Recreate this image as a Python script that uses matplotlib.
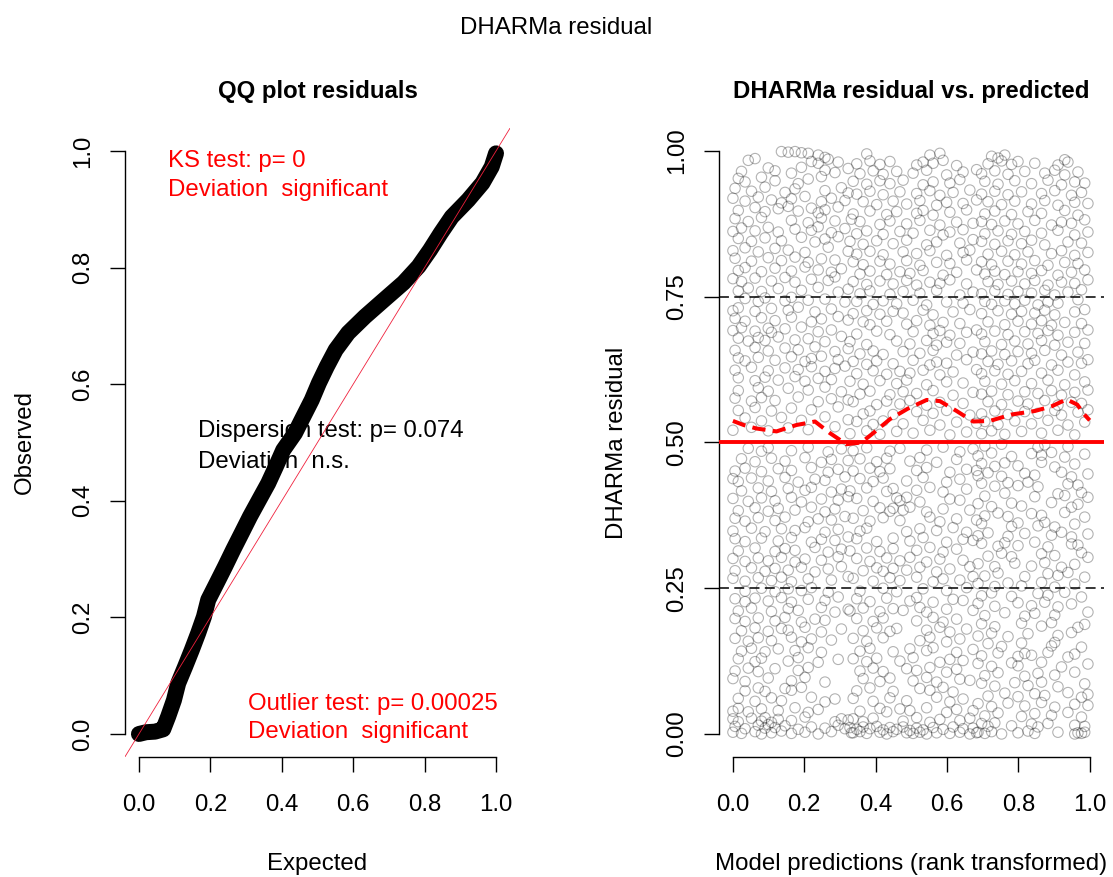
import matplotlib.pyplot as plt

plt.rcParams['font.family'] = ['Liberation Sans', 'DejaVu Sans']
FS = 17.3

# QQ plot: observed vs expected quantiles (read along the centre of the band)
qq_expected = [0.000, 0.020, 0.045, 0.068, 0.082, 0.098, 0.110, 0.129, 0.148, 0.166,
               0.182, 0.194, 0.218, 0.241, 0.264, 0.288, 0.311, 0.336, 0.362, 0.383,
               0.404, 0.437, 0.460, 0.484, 0.504, 0.526, 0.551, 0.586, 0.633, 0.685,
               0.741, 0.783, 0.815, 0.845, 0.876, 0.922, 0.962, 0.988, 1.000]
qq_observed = [0.000, 0.003, 0.004, 0.008, 0.030, 0.058, 0.087, 0.115, 0.144, 0.173,
               0.201, 0.230, 0.259, 0.287, 0.316, 0.345, 0.373, 0.401, 0.430, 0.458,
               0.487, 0.516, 0.544, 0.573, 0.602, 0.630, 0.659, 0.688, 0.716, 0.744,
               0.774, 0.802, 0.830, 0.859, 0.887, 0.916, 0.945, 0.973, 0.996]

# quantile spline of the residuals (dashed red)
spline_x = [0.0, 0.03, 0.066, 0.122, 0.178, 0.23, 0.272, 0.318, 0.36, 0.393, 0.44, 0.49,
            0.543, 0.58, 0.627, 0.673, 0.72, 0.781, 0.846, 0.893, 0.935, 0.965, 0.985, 1.0]
spline_y = [0.537, 0.530, 0.524, 0.519, 0.530, 0.536, 0.516, 0.497, 0.500, 0.516, 0.540, 0.558,
            0.573, 0.571, 0.554, 0.536, 0.537, 0.548, 0.554, 0.562, 0.574, 0.565, 0.548, 0.538]

# residuals vs rank-transformed predictions, (prediction, residual)
resid_upper_left = [
    (0.136,0.999),(0.155,0.998),(0.174,0.999),(0.192,0.997),(0.211,0.996),(0.239,0.993),(0.258,0.989),
    (0.043,0.984),(0.062,0.987),(0.220,0.982),(0.239,0.979),(0.267,0.986),(0.295,0.981),
    (0.024,0.965),(0.099,0.971),(0.118,0.966),(0.164,0.962),(0.192,0.972),(0.258,0.967),(0.286,0.963),(0.323,0.970),
    (0.015,0.953),(0.034,0.947),(0.080,0.955),(0.118,0.949),(0.183,0.944),(0.211,0.952),(0.248,0.956),
    (0.006,0.936),(0.052,0.931),(0.090,0.938),(0.146,0.929),(0.174,0.935),(0.258,0.932),(0.304,0.937),(0.323,0.928),
    (0.000,0.919),(0.034,0.914),(0.071,0.921),(0.108,0.916),(0.136,0.911),(0.164,0.918),(0.202,0.922),(0.248,0.913),(0.276,0.919),(0.314,0.915),
    (0.015,0.898),(0.062,0.903),(0.090,0.896),(0.127,0.901),(0.155,0.905),(0.183,0.897),(0.220,0.902),(0.239,0.894),(0.258,0.899),(0.295,0.904),
    (0.006,0.884),(0.043,0.879),(0.080,0.886),(0.164,0.881),(0.211,0.877),(0.248,0.885),(0.286,0.880),(0.332,0.883),
    (0.000,0.862),(0.024,0.868),(0.062,0.863),(0.099,0.869),(0.127,0.861),(0.174,0.866),(0.220,0.864),(0.239,0.870),(0.276,0.860),(0.314,0.867),
    (0.015,0.850),(0.052,0.845),(0.090,0.851),(0.136,0.846),(0.192,0.852),(0.230,0.844),(0.258,0.849),(0.295,0.853),
    (0.000,0.829),(0.034,0.834),(0.071,0.827),(0.118,0.833),(0.155,0.830),(0.202,0.826),(0.267,0.835),(0.323,0.828),
    (0.006,0.816),(0.052,0.811),(0.099,0.817),(0.136,0.812),(0.174,0.818),(0.211,0.809),(0.248,0.815),(0.286,0.813),
    (0.015,0.795),(0.034,0.800),(0.080,0.793),(0.118,0.799),(0.164,0.794),(0.202,0.801),(0.239,0.796),(0.276,0.792),(0.304,0.798),
    (0.000,0.781),(0.024,0.776),(0.062,0.782),(0.108,0.777),(0.146,0.783),(0.174,0.775),(0.220,0.780),(0.267,0.778),(0.286,0.784),
    (0.015,0.760),(0.043,0.765),(0.080,0.759),(0.127,0.764),(0.192,0.761),(0.239,0.766),(0.295,0.758),(0.323,0.763),
    (0.034,0.747),(0.071,0.742),(0.090,0.748),(0.146,0.743),(0.164,0.749),(0.211,0.744),(0.258,0.746),(0.314,0.741),
    (0.000,0.726),(0.015,0.731),(0.062,0.725),(0.108,0.730),(0.155,0.727),(0.183,0.732),(0.230,0.724),(0.276,0.729),
    (0.006,0.713),(0.034,0.708),(0.080,0.714),(0.118,0.709),(0.164,0.715),(0.220,0.707),(0.248,0.712),(0.295,0.716),(0.323,0.710),
    (0.000,0.692),(0.024,0.697),(0.062,0.691),(0.099,0.696),(0.108,0.689),(0.146,0.695),(0.192,0.698),(0.239,0.690),(0.276,0.693),
    (0.015,0.679),(0.043,0.674),(0.071,0.680),(0.090,0.675),(0.127,0.681),(0.174,0.676),(0.211,0.678),(0.258,0.673),(0.304,0.682),
    (0.006,0.658),(0.062,0.663),(0.099,0.657),(0.146,0.662),(0.183,0.659),(0.230,0.664),(0.286,0.656),(0.323,0.661),
    (0.015,0.645),(0.034,0.640),(0.071,0.646),(0.118,0.641),(0.164,0.647),(0.202,0.639),(0.220,0.644),(0.248,0.648),(0.295,0.642),
    (0.006,0.624),(0.052,0.629),(0.099,0.623),(0.146,0.628),(0.183,0.625),(0.220,0.630),(0.258,0.622),(0.286,0.627),(0.314,0.631),
    (0.015,0.611),(0.062,0.606),(0.090,0.612),(0.127,0.607),(0.174,0.613),(0.202,0.605),(0.239,0.610),(0.276,0.608),
    (0.015,0.589),(0.071,0.594),(0.099,0.588),(0.155,0.593),(0.211,0.590),(0.258,0.595),(0.304,0.587),
    (0.006,0.576),(0.052,0.571),(0.080,0.577),(0.118,0.572),(0.183,0.578),(0.239,0.570),(0.276,0.575),(0.323,0.573),
    (0.015,0.555),(0.062,0.560),(0.108,0.554),(0.164,0.559),(0.220,0.556),(0.295,0.561),
    (0.034,0.542),(0.080,0.537),(0.136,0.543),(0.192,0.538),(0.258,0.544),(0.323,0.539),
    (0.000,0.521),(0.052,0.526),(0.099,0.520),(0.155,0.525),(0.211,0.522),(0.286,0.527),
]
resid_upper_mid = [
    (0.375,0.995),(0.552,0.993),(0.580,0.996),
    (0.347,0.978),(0.384,0.983),(0.412,0.977),(0.440,0.982),(0.515,0.976),(0.533,0.981),(0.561,0.979),(0.589,0.984),(0.627,0.975),
    (0.356,0.961),(0.393,0.966),(0.421,0.960),(0.459,0.965),(0.505,0.962),(0.543,0.967),(0.599,0.959),(0.645,0.964),(0.683,0.968),
    (0.337,0.948),(0.375,0.943),(0.412,0.949),(0.440,0.944),(0.477,0.950),(0.533,0.942),(0.561,0.947),(0.608,0.945),(0.636,0.951),
    (0.347,0.926),(0.384,0.931),(0.421,0.925),(0.468,0.930),(0.515,0.927),(0.552,0.932),(0.580,0.924),(0.617,0.929),(0.664,0.933),
    (0.365,0.913),(0.403,0.908),(0.449,0.914),(0.487,0.909),(0.524,0.915),(0.571,0.907),(0.599,0.912),(0.645,0.910),(0.683,0.916),
    (0.337,0.892),(0.384,0.897),(0.431,0.891),(0.459,0.896),(0.515,0.893),(0.533,0.898),(0.561,0.890),(0.608,0.895),(0.655,0.899),
    (0.356,0.879),(0.412,0.874),(0.440,0.880),(0.487,0.875),(0.524,0.881),(0.580,0.873),(0.627,0.878),(0.673,0.876),
    (0.347,0.858),(0.375,0.863),(0.421,0.857),(0.468,0.862),(0.505,0.859),(0.552,0.864),(0.589,0.856),(0.608,0.861),(0.645,0.865),
    (0.328,0.845),(0.365,0.840),(0.403,0.846),(0.449,0.841),(0.487,0.847),(0.543,0.839),(0.571,0.844),(0.636,0.842),(0.673,0.848),
    (0.347,0.823),(0.384,0.828),(0.421,0.822),(0.477,0.827),(0.515,0.824),(0.552,0.829),(0.599,0.821),(0.645,0.826),(0.664,0.830),
    (0.337,0.810),(0.365,0.805),(0.412,0.811),(0.440,0.806),(0.487,0.812),(0.524,0.804),(0.571,0.809),(0.608,0.807),(0.655,0.813),
    (0.356,0.789),(0.384,0.794),(0.431,0.788),(0.468,0.793),(0.496,0.790),(0.533,0.795),(0.589,0.787),(0.627,0.792),(0.683,0.796),
    (0.337,0.776),(0.375,0.771),(0.412,0.777),(0.449,0.772),(0.487,0.778),(0.515,0.770),(0.552,0.775),(0.580,0.773),(0.608,0.779),(0.655,0.772),
    (0.356,0.755),(0.384,0.760),(0.440,0.754),(0.477,0.759),(0.524,0.756),(0.571,0.761),(0.636,0.753),(0.673,0.758),
    (0.347,0.742),(0.393,0.737),(0.421,0.743),(0.459,0.738),(0.505,0.744),(0.543,0.736),(0.599,0.741),(0.645,0.739),
    (0.337,0.721),(0.375,0.726),(0.412,0.720),(0.449,0.725),(0.477,0.722),(0.533,0.727),(0.561,0.719),(0.617,0.724),(0.664,0.728),
    (0.365,0.707),(0.384,0.702),(0.431,0.708),(0.487,0.703),(0.515,0.709),(0.552,0.701),(0.589,0.706),(0.636,0.704),
    (0.347,0.686),(0.403,0.691),(0.440,0.685),(0.505,0.690),(0.561,0.687),(0.580,0.692),(0.608,0.684),(0.655,0.689),(0.683,0.693),
    (0.328,0.673),(0.375,0.668),(0.459,0.674),(0.496,0.669),(0.543,0.675),(0.571,0.667),(0.599,0.672),(0.636,0.670),
    (0.356,0.652),(0.393,0.657),(0.421,0.651),(0.477,0.656),(0.524,0.653),(0.561,0.658),(0.627,0.650),(0.673,0.655),
    (0.337,0.639),(0.375,0.634),(0.403,0.640),(0.449,0.635),(0.505,0.641),(0.552,0.633),(0.571,0.638),(0.599,0.636),(0.655,0.642),
    (0.347,0.618),(0.393,0.623),(0.431,0.617),(0.468,0.622),(0.496,0.619),(0.533,0.624),(0.580,0.616),(0.617,0.621),(0.683,0.625),
    (0.328,0.605),(0.365,0.600),(0.412,0.606),(0.459,0.601),(0.487,0.607),(0.543,0.599),(0.599,0.604),(0.645,0.602),
    (0.356,0.583),(0.384,0.588),(0.440,0.582),(0.477,0.587),(0.515,0.584),(0.561,0.589),(0.617,0.581),(0.673,0.586),
    (0.337,0.570),(0.403,0.565),(0.431,0.571),(0.468,0.566),(0.496,0.572),(0.543,0.564),(0.580,0.569),(0.645,0.567),
    (0.365,0.549),(0.384,0.554),(0.449,0.548),(0.515,0.553),(0.561,0.550),(0.599,0.555),(0.664,0.547),
    (0.347,0.536),(0.393,0.531),(0.421,0.537),(0.477,0.532),(0.533,0.538),(0.580,0.530),(0.627,0.535),(0.683,0.533),
    (0.328,0.515),(0.375,0.520),(0.412,0.514),(0.459,0.519),(0.505,0.516),(0.552,0.521),(0.608,0.513),(0.655,0.518),
]
resid_upper_right = [
    (0.725,0.991),(0.743,0.988),(0.762,0.993),(0.930,0.985),
    (0.715,0.978),(0.753,0.983),(0.781,0.977),(0.799,0.982),(0.846,0.979),(0.911,0.976),(0.939,0.981),
    (0.697,0.961),(0.734,0.966),(0.771,0.960),(0.818,0.965),(0.874,0.962),(0.902,0.967),(0.930,0.959),(0.967,0.964),
    (0.706,0.948),(0.743,0.943),(0.790,0.949),(0.837,0.944),(0.883,0.950),(0.921,0.942),(0.958,0.947),(0.986,0.945),
    (0.697,0.926),(0.734,0.931),(0.771,0.925),(0.809,0.930),(0.865,0.927),(0.902,0.932),(0.949,0.924),(0.977,0.929),
    (0.715,0.913),(0.753,0.908),(0.790,0.914),(0.837,0.909),(0.874,0.915),(0.911,0.907),(0.958,0.912),(0.995,0.910),
    (0.706,0.892),(0.734,0.897),(0.781,0.891),(0.827,0.896),(0.865,0.893),(0.930,0.898),(0.967,0.890),
    (0.697,0.879),(0.725,0.874),(0.762,0.880),(0.799,0.875),(0.846,0.881),(0.893,0.873),(0.921,0.878),(0.949,0.876),(0.986,0.882),
    (0.706,0.858),(0.743,0.863),(0.781,0.857),(0.818,0.862),(0.865,0.859),(0.911,0.864),(0.958,0.856),(0.995,0.861),
    (0.697,0.845),(0.734,0.840),(0.771,0.846),(0.809,0.841),(0.837,0.847),(0.874,0.839),(0.939,0.844),(0.977,0.842),
    (0.715,0.823),(0.753,0.828),(0.790,0.822),(0.827,0.827),(0.893,0.824),(0.921,0.829),(0.958,0.821),(0.995,0.826),
    (0.697,0.810),(0.725,0.805),(0.771,0.811),(0.809,0.806),(0.846,0.812),(0.883,0.804),(0.930,0.809),(0.967,0.807),
    (0.706,0.789),(0.734,0.794),(0.762,0.788),(0.799,0.793),(0.837,0.790),(0.865,0.795),(0.911,0.787),(0.949,0.792),(0.986,0.796),
    (0.715,0.776),(0.743,0.771),(0.781,0.777),(0.818,0.772),(0.846,0.778),(0.883,0.770),(0.921,0.775),(0.958,0.773),(0.995,0.779),
    (0.697,0.755),(0.734,0.760),(0.771,0.754),(0.799,0.759),(0.837,0.756),(0.874,0.761),(0.902,0.753),(0.939,0.758),(0.977,0.762),
    (0.706,0.742),(0.725,0.737),(0.762,0.743),(0.790,0.738),(0.818,0.744),(0.855,0.736),(0.883,0.741),(0.911,0.739),(0.967,0.745),
    (0.697,0.721),(0.743,0.726),(0.781,0.720),(0.809,0.725),(0.846,0.722),(0.874,0.727),(0.902,0.719),(0.958,0.724),(0.986,0.728),
    (0.715,0.707),(0.762,0.702),(0.799,0.708),(0.837,0.703),(0.865,0.709),(0.893,0.701),(0.930,0.706),(0.977,0.704),
    (0.697,0.686),(0.734,0.691),(0.771,0.685),(0.818,0.690),(0.855,0.687),(0.883,0.692),(0.911,0.684),(0.958,0.689),(0.995,0.693),
    (0.706,0.673),(0.753,0.668),(0.790,0.674),(0.827,0.669),(0.865,0.675),(0.902,0.667),(0.939,0.672),(0.986,0.670),
    (0.697,0.652),(0.725,0.657),(0.762,0.651),(0.799,0.656),(0.837,0.653),(0.874,0.658),(0.921,0.650),(0.967,0.655),
    (0.715,0.639),(0.743,0.634),(0.781,0.640),(0.827,0.635),(0.846,0.641),(0.893,0.633),(0.939,0.638),(0.977,0.636),(0.995,0.642),
    (0.697,0.618),(0.734,0.623),(0.771,0.617),(0.809,0.622),(0.865,0.619),(0.911,0.624),(0.958,0.616),
    (0.706,0.605),(0.753,0.600),(0.790,0.606),(0.837,0.601),(0.883,0.607),(0.930,0.599),(0.986,0.604),
    (0.697,0.583),(0.725,0.588),(0.771,0.582),(0.818,0.587),(0.855,0.584),(0.893,0.589),(0.921,0.581),(0.958,0.586),(0.995,0.590),
    (0.715,0.570),(0.753,0.565),(0.799,0.571),(0.827,0.566),(0.874,0.572),(0.911,0.564),(0.949,0.569),(0.977,0.567),
    (0.697,0.549),(0.734,0.554),(0.771,0.548),(0.818,0.553),(0.855,0.550),(0.902,0.555),(0.921,0.547),(0.967,0.552),(0.995,0.556),
    (0.706,0.536),(0.743,0.531),(0.790,0.537),(0.837,0.532),(0.883,0.538),(0.939,0.530),(0.986,0.535),
    (0.697,0.515),(0.725,0.520),(0.762,0.514),(0.809,0.519),(0.865,0.516),(0.911,0.521),(0.958,0.513),
]
resid_lower_left = [
    (0.043,0.490),(0.080,0.485),(0.099,0.491),(0.164,0.486),(0.211,0.492),(0.267,0.484),(0.304,0.489),
    (0.024,0.472),(0.062,0.467),(0.108,0.473),(0.146,0.468),(0.202,0.474),(0.248,0.466),(0.276,0.471),(0.323,0.469),
    (0.006,0.451),(0.034,0.456),(0.080,0.450),(0.127,0.455),(0.164,0.452),(0.220,0.457),(0.267,0.449),(0.295,0.454),
    (0.000,0.438),(0.015,0.433),(0.052,0.439),(0.099,0.434),(0.146,0.440),(0.183,0.432),(0.230,0.437),(0.258,0.435),(0.314,0.441),
    (0.024,0.417),(0.071,0.422),(0.108,0.416),(0.155,0.421),(0.202,0.418),(0.220,0.423),(0.276,0.415),(0.304,0.420),
    (0.000,0.404),(0.043,0.399),(0.080,0.405),(0.118,0.400),(0.164,0.406),(0.192,0.398),(0.248,0.403),(0.295,0.401),(0.323,0.407),
    (0.015,0.383),(0.062,0.388),(0.099,0.382),(0.127,0.387),(0.174,0.384),(0.220,0.389),(0.258,0.381),(0.286,0.386),
    (0.006,0.370),(0.034,0.365),(0.071,0.371),(0.118,0.366),(0.146,0.372),(0.211,0.364),(0.239,0.369),(0.276,0.367),(0.314,0.373),
    (0.000,0.348),(0.052,0.353),(0.090,0.347),(0.136,0.352),(0.174,0.349),(0.202,0.354),(0.258,0.346),(0.295,0.351),
    (0.006,0.335),(0.034,0.330),(0.080,0.336),(0.127,0.331),(0.164,0.337),(0.220,0.329),(0.248,0.334),(0.286,0.332),(0.323,0.338),
    (0.015,0.314),(0.062,0.319),(0.118,0.313),(0.146,0.318),(0.174,0.315),(0.230,0.320),(0.267,0.312),(0.304,0.317),
    (0.000,0.301),(0.034,0.296),(0.071,0.302),(0.099,0.297),(0.136,0.303),(0.174,0.295),(0.202,0.300),(0.248,0.298),(0.295,0.304),
    (0.006,0.280),(0.052,0.285),(0.090,0.279),(0.118,0.284),(0.155,0.281),(0.192,0.286),(0.230,0.278),(0.267,0.283),(0.304,0.287),
    (0.000,0.267),(0.034,0.262),(0.071,0.268),(0.108,0.263),(0.136,0.269),(0.164,0.261),(0.211,0.266),(0.276,0.264),(0.323,0.270),
    (0.034,0.245),(0.080,0.250),(0.118,0.244),(0.155,0.249),(0.192,0.246),(0.220,0.251),(0.267,0.243),
    (0.006,0.232),(0.034,0.227),(0.062,0.233),(0.099,0.228),(0.136,0.234),(0.164,0.226),(0.211,0.231),(0.258,0.229),(0.295,0.235),
    (0.015,0.211),(0.052,0.216),(0.108,0.210),(0.155,0.215),(0.183,0.212),(0.248,0.217),(0.286,0.209),(0.323,0.214),
    (0.006,0.198),(0.034,0.193),(0.071,0.199),(0.118,0.194),(0.146,0.200),(0.192,0.192),(0.230,0.197),(0.258,0.195),
    (0.024,0.177),(0.062,0.182),(0.099,0.176),(0.136,0.181),(0.155,0.178),(0.202,0.183),(0.248,0.175),(0.304,0.180),
    (0.006,0.164),(0.043,0.159),(0.071,0.165),(0.108,0.160),(0.164,0.166),(0.192,0.158),(0.220,0.163),(0.276,0.161),
    (0.024,0.142),(0.052,0.147),(0.090,0.141),(0.127,0.146),(0.174,0.143),(0.211,0.148),(0.248,0.140),
    (0.015,0.129),(0.062,0.124),(0.080,0.130),(0.155,0.125),(0.183,0.131),(0.239,0.123),(0.295,0.128),
    (0.006,0.108),(0.043,0.113),(0.071,0.107),(0.118,0.112),(0.183,0.109),(0.211,0.114),
    (0.000,0.095),(0.034,0.090),(0.099,0.096),(0.164,0.091),(0.202,0.097),(0.258,0.089),
    (0.034,0.074),(0.071,0.079),(0.090,0.073),(0.146,0.078),(0.164,0.075),(0.192,0.080),
    (0.015,0.061),(0.062,0.056),(0.108,0.062),(0.136,0.057),(0.220,0.063),(0.258,0.055),(0.286,0.060),
    (0.000,0.039),(0.015,0.044),(0.043,0.038),(0.080,0.043),(0.127,0.040),(0.174,0.045),(0.211,0.037),(0.239,0.042),
    (0.000,0.026),(0.015,0.021),(0.052,0.027),(0.080,0.022),(0.090,0.028),(0.108,0.020),(0.127,0.025),(0.164,0.023),(0.202,0.029),(0.286,0.021),(0.304,0.026),(0.323,0.024),
    (0.006,0.013),(0.034,0.009),(0.071,0.015),(0.090,0.010),(0.099,0.016),(0.118,0.011),(0.146,0.014),(0.183,0.008),(0.220,0.012),(0.258,0.010),(0.295,0.015),(0.314,0.009),
    (0.000,0.003),(0.024,0.001),(0.062,0.004),(0.080,0.000),(0.108,0.002),(0.136,0.005),(0.164,0.001),(0.202,0.003),(0.239,0.000),(0.276,0.004),(0.332,0.002),
]
resid_lower_mid = [
    (0.337,0.486),(0.375,0.491),(0.440,0.485),(0.468,0.490),(0.543,0.487),(0.589,0.492),(0.636,0.484),(0.673,0.489),
    (0.356,0.472),(0.403,0.467),(0.431,0.473),(0.496,0.468),(0.524,0.474),(0.571,0.466),(0.627,0.471),
    (0.337,0.451),(0.384,0.456),(0.412,0.450),(0.440,0.455),(0.515,0.452),(0.543,0.457),(0.608,0.449),(0.655,0.454),(0.683,0.452),
    (0.356,0.438),(0.393,0.433),(0.421,0.439),(0.487,0.434),(0.533,0.440),(0.599,0.432),(0.636,0.437),
    (0.328,0.417),(0.375,0.422),(0.431,0.416),(0.449,0.421),(0.515,0.418),(0.552,0.423),(0.589,0.415),(0.655,0.420),
    (0.347,0.404),(0.393,0.399),(0.459,0.405),(0.468,0.400),(0.487,0.406),(0.524,0.398),(0.608,0.403),(0.636,0.401),
    (0.365,0.383),(0.412,0.388),(0.440,0.382),(0.449,0.387),(0.477,0.384),(0.496,0.389),(0.543,0.381),(0.589,0.386),(0.664,0.384),
    (0.337,0.370),(0.384,0.365),(0.421,0.371),(0.468,0.366),(0.552,0.372),(0.580,0.364),(0.627,0.369),(0.683,0.367),
    (0.356,0.348),(0.375,0.353),(0.487,0.347),(0.524,0.352),(0.571,0.349),(0.617,0.354),(0.655,0.346),
    (0.347,0.335),(0.403,0.330),(0.449,0.336),(0.496,0.331),(0.533,0.337),(0.599,0.329),(0.645,0.334),(0.673,0.332),
    (0.328,0.314),(0.375,0.319),(0.412,0.313),(0.449,0.318),(0.515,0.315),(0.552,0.320),(0.589,0.312),(0.627,0.317),
    (0.347,0.301),(0.384,0.296),(0.431,0.302),(0.468,0.297),(0.496,0.303),(0.543,0.295),(0.580,0.300),(0.645,0.298),
    (0.365,0.280),(0.403,0.285),(0.421,0.279),(0.449,0.284),(0.487,0.281),(0.524,0.286),(0.571,0.278),(0.608,0.283),(0.664,0.287),
    (0.337,0.267),(0.393,0.262),(0.440,0.268),(0.468,0.263),(0.515,0.269),(0.561,0.261),(0.589,0.266),(0.636,0.264),(0.673,0.270),
    (0.356,0.245),(0.421,0.250),(0.459,0.244),(0.533,0.249),(0.599,0.246),(0.655,0.251),
    (0.347,0.232),(0.384,0.227),(0.431,0.233),(0.496,0.228),(0.515,0.234),(0.561,0.226),(0.617,0.231),(0.645,0.229),
    (0.328,0.211),(0.365,0.216),(0.412,0.210),(0.449,0.215),(0.477,0.212),(0.524,0.217),(0.543,0.209),(0.599,0.214),(0.673,0.212),
    (0.347,0.198),(0.393,0.193),(0.421,0.199),(0.515,0.194),(0.561,0.200),(0.589,0.192),(0.627,0.197),
    (0.365,0.177),(0.403,0.182),(0.440,0.176),(0.459,0.181),(0.543,0.178),(0.580,0.183),(0.608,0.175),(0.655,0.180),
    (0.337,0.164),(0.375,0.159),(0.421,0.165),(0.524,0.160),(0.552,0.166),(0.599,0.158),(0.636,0.163),
    (0.356,0.142),(0.384,0.147),(0.449,0.141),(0.496,0.146),(0.543,0.143),(0.561,0.148),(0.627,0.140),(0.673,0.145),
    (0.337,0.129),(0.375,0.124),(0.403,0.130),(0.468,0.125),(0.505,0.131),(0.580,0.123),(0.608,0.128),(0.645,0.126),
    (0.356,0.108),(0.393,0.113),(0.421,0.107),(0.487,0.112),(0.515,0.109),(0.552,0.114),(0.599,0.106),(0.627,0.111),
    (0.365,0.095),(0.412,0.090),(0.440,0.096),(0.505,0.091),(0.543,0.097),(0.571,0.089),(0.636,0.094),(0.664,0.092),
    (0.347,0.074),(0.384,0.079),(0.449,0.073),(0.524,0.078),(0.552,0.075),(0.589,0.080),(0.617,0.072),
    (0.337,0.061),(0.393,0.056),(0.440,0.062),(0.487,0.057),(0.571,0.063),(0.608,0.055),(0.645,0.060),
    (0.356,0.039),(0.412,0.044),(0.431,0.038),(0.468,0.043),(0.496,0.040),(0.543,0.045),(0.599,0.037),(0.627,0.042),(0.673,0.040),
    (0.337,0.026),(0.365,0.021),(0.393,0.027),(0.477,0.022),(0.515,0.028),(0.552,0.020),(0.580,0.025),(0.636,0.023),(0.664,0.027),
    (0.328,0.011),(0.347,0.008),(0.365,0.012),(0.384,0.009),(0.403,0.013),(0.421,0.007),(0.440,0.011),(0.459,0.008),(0.477,0.012),
    (0.496,0.006),(0.515,0.010),(0.533,0.007),(0.561,0.011),(0.589,0.008),(0.617,0.012),(0.645,0.009),(0.673,0.010),
    (0.337,0.002),(0.356,0.004),(0.375,0.001),(0.412,0.003),(0.431,0.000),(0.449,0.004),(0.487,0.002),(0.505,0.001),
    (0.524,0.003),(0.543,0.000),(0.571,0.002),(0.608,0.001),(0.636,0.003),(0.664,0.000),(0.683,0.002),
]
resid_lower_right = [
    (0.706,0.494),(0.753,0.497),(0.855,0.492),(0.874,0.496),(0.939,0.493),
    (0.687,0.477),(0.725,0.482),(0.781,0.476),(0.837,0.481),(0.865,0.478),(0.893,0.483),(0.930,0.475),(0.986,0.480),
    (0.697,0.464),(0.734,0.459),(0.762,0.465),(0.799,0.460),(0.865,0.466),(0.902,0.458),(0.958,0.463),
    (0.687,0.443),(0.715,0.448),(0.753,0.442),(0.818,0.447),(0.846,0.444),(0.921,0.449),(0.949,0.441),(0.995,0.446),
    (0.697,0.430),(0.734,0.425),(0.771,0.431),(0.799,0.426),(0.827,0.432),(0.855,0.424),(0.939,0.429),(0.967,0.427),
    (0.706,0.408),(0.762,0.413),(0.846,0.407),(0.911,0.412),(0.930,0.409),(0.977,0.414),(0.995,0.406),
    (0.687,0.395),(0.725,0.390),(0.781,0.396),(0.809,0.391),(0.893,0.397),(0.949,0.389),(0.967,0.394),
    (0.706,0.374),(0.743,0.379),(0.771,0.373),(0.837,0.378),(0.865,0.375),(0.930,0.380),(0.986,0.372),
    (0.697,0.361),(0.781,0.356),(0.799,0.362),(0.855,0.357),(0.874,0.363),(0.902,0.355),(0.958,0.360),
    (0.687,0.340),(0.715,0.345),(0.771,0.339),(0.818,0.344),(0.893,0.341),(0.921,0.346),(0.949,0.338),(0.995,0.343),
    (0.697,0.327),(0.743,0.322),(0.762,0.328),(0.799,0.323),(0.846,0.329),(0.883,0.321),(0.949,0.326),(0.967,0.324),
    (0.715,0.305),(0.753,0.310),(0.781,0.304),(0.865,0.309),(0.902,0.306),(0.977,0.311),(0.995,0.303),
    (0.687,0.292),(0.734,0.287),(0.790,0.293),(0.837,0.288),(0.874,0.294),(0.921,0.286),(0.958,0.291),
    (0.706,0.271),(0.743,0.276),(0.818,0.270),(0.883,0.275),(0.911,0.272),(0.939,0.277),(0.986,0.269),
    (0.687,0.258),(0.734,0.253),(0.771,0.259),(0.809,0.254),(0.865,0.260),(0.902,0.252),(0.958,0.257),
    (0.697,0.237),(0.725,0.242),(0.781,0.236),(0.855,0.241),(0.883,0.238),(0.930,0.243),(0.977,0.235),
    (0.687,0.224),(0.734,0.219),(0.799,0.225),(0.837,0.220),(0.874,0.226),(0.911,0.218),(0.949,0.223),
    (0.706,0.203),(0.762,0.208),(0.818,0.202),(0.846,0.207),(0.902,0.204),(0.995,0.209),
    (0.697,0.189),(0.734,0.184),(0.809,0.190),(0.865,0.185),(0.893,0.191),(0.967,0.183),(0.986,0.188),
    (0.687,0.168),(0.725,0.173),(0.771,0.167),(0.827,0.172),(0.911,0.169),(0.949,0.174),
    (0.715,0.155),(0.753,0.150),(0.809,0.156),(0.893,0.151),(0.902,0.157),(0.977,0.149),
    (0.697,0.134),(0.743,0.139),(0.799,0.133),(0.818,0.138),(0.837,0.135),(0.883,0.140),(0.939,0.132),(0.958,0.137),
    (0.687,0.121),(0.725,0.116),(0.781,0.122),(0.799,0.117),(0.865,0.123),(0.921,0.115),(0.995,0.120),
    (0.706,0.100),(0.743,0.105),(0.818,0.099),(0.855,0.104),(0.902,0.101),(0.958,0.106),
    (0.697,0.087),(0.734,0.082),(0.790,0.088),(0.827,0.083),(0.865,0.089),(0.911,0.081),(0.986,0.086),
    (0.715,0.065),(0.762,0.070),(0.799,0.064),(0.846,0.069),(0.874,0.066),(0.939,0.071),(0.977,0.063),(0.995,0.068),
    (0.687,0.052),(0.725,0.047),(0.771,0.053),(0.818,0.048),(0.865,0.054),(0.902,0.046),(0.958,0.051),(0.995,0.049),
    (0.706,0.031),(0.743,0.036),(0.809,0.030),(0.846,0.035),(0.893,0.032),(0.939,0.037),(0.977,0.029),
    (0.697,0.018),(0.715,0.013),(0.734,0.019),(0.781,0.014),(0.837,0.017),(0.855,0.012),(0.883,0.018),(0.958,0.015),(0.986,0.013),
    (0.687,0.003),(0.706,0.001),(0.725,0.004),(0.753,0.000),(0.799,0.002),(0.827,0.005),(0.846,0.001),(0.911,0.003),
    (0.958,0.000),(0.967,0.002),(0.977,0.001),(0.986,0.003),
]

x_ticks = [0.0, 0.2, 0.4, 0.6, 0.8, 1.0]
x_ticklabels = ['0.0', '0.2', '0.4', '0.6', '0.8', '1.0']
qq_yticks = [0.0, 0.2, 0.4, 0.6, 0.8, 1.0]
qq_yticklabels = ['0.0', '0.2', '0.4', '0.6', '0.8', '1.0']
res_yticks = [0.0, 0.25, 0.5, 0.75, 1.0]
res_yticklabels = ['0.00', '0.25', '0.50', '0.75', '1.00']


def r_style(ax, yticks, yticklabels):
    # R base graphics look: axes only over the tick range, 4% padding
    ax.set_xlim(-0.04, 1.04)
    ax.set_ylim(-0.04, 1.04)
    ax.spines['top'].set_visible(False)
    ax.spines['right'].set_visible(False)
    ax.spines['left'].set_bounds(0, 1)
    ax.spines['bottom'].set_bounds(0, 1)
    for s in ['left', 'bottom']:
        ax.spines[s].set_linewidth(1.0)
    ax.set_xticks(x_ticks)
    ax.set_xticklabels(x_ticklabels)
    ax.set_yticks(yticks)
    ax.set_yticklabels(yticklabels, rotation=90, va='center')
    ax.tick_params(axis='both', length=10.8, width=1.0, labelsize=FS)
    ax.tick_params(axis='x', pad=15.6)
    ax.tick_params(axis='y', pad=11.1)


fig = plt.figure(figsize=(11.13, 8.77), dpi=100)
ax1 = fig.add_axes([0.1120, 0.1365, 0.3465, 0.7179])
ax2 = fig.add_axes([0.6457, 0.1365, 0.3462, 0.7179])

fig.text(0.5, 0.9612, 'DHARMa residual', ha='center', va='baseline', fontsize=FS)

# ---- QQ plot ----
r_style(ax1, qq_yticks, qq_yticklabels)
ax1.text(0.165, 0.509, 'Dispersion test: p= 0.074', fontsize=FS, va='baseline', zorder=1)
ax1.text(0.165, 0.456, 'Deviation  n.s.', fontsize=FS, va='baseline', zorder=1)
ax1.plot(qq_expected, qq_observed, color='black', lw=11.5, solid_capstyle='round',
         solid_joinstyle='round', zorder=2)
ax1.axline((0, 0), slope=1, color='#f0203c', lw=0.6, zorder=3)
ax1.text(0.082, 0.973, 'KS test: p= 0', color='red', fontsize=FS, va='baseline')
ax1.text(0.082, 0.922, 'Deviation  significant', color='red', fontsize=FS, va='baseline')
ax1.text(0.306, 0.041, 'Outlier test: p= 0.00025', color='red', fontsize=FS, va='baseline')
ax1.text(0.306, -0.007, 'Deviation  significant', color='red', fontsize=FS, va='baseline')
ax1.set_title('QQ plot residuals', fontsize=FS, fontweight='bold', pad=21.4)
ax1.text(0.5, -0.179, 'Expected', transform=ax1.transAxes, ha='center', va='baseline', fontsize=FS)
ax1.text(-0.2586, 0.5, 'Observed', transform=ax1.transAxes, rotation=90,
         ha='center', va='center', fontsize=FS)

# ---- residual vs predicted ----
r_style(ax2, res_yticks, res_yticklabels)
pts = resid_upper_left + resid_upper_mid + resid_upper_right + \
    resid_lower_left + resid_lower_mid + resid_lower_right
pred = [p[0] for p in pts]
resid = [p[1] for p in pts]
ax2.scatter(pred, resid, s=56, facecolors='none', edgecolors=(0, 0, 0, 0.3),
            linewidths=0.8, zorder=2)
ax2.axhline(0.25, color='black', lw=1.1, ls=(0, (6.5, 3.5)), zorder=3)
ax2.axhline(0.75, color='black', lw=1.1, ls=(0, (6.5, 3.5)), zorder=3)
ax2.axhline(0.5, color='red', lw=2.8, zorder=3)
ax2.plot(spline_x, spline_y, color='red', lw=2.9, ls=(0, (3.3, 1.8)), zorder=4)
ax2.set_title('DHARMa residual vs. predicted', fontsize=FS, fontweight='bold', pad=21.4)
ax2.text(0.5, -0.179, 'Model predictions (rank transformed)', transform=ax2.transAxes,
         ha='center', va='baseline', fontsize=FS)
ax2.text(-0.264, 0.5, 'DHARMa residual', transform=ax2.transAxes, rotation=90,
         ha='center', va='center', fontsize=FS)

plt.savefig('out.png', dpi=100)
